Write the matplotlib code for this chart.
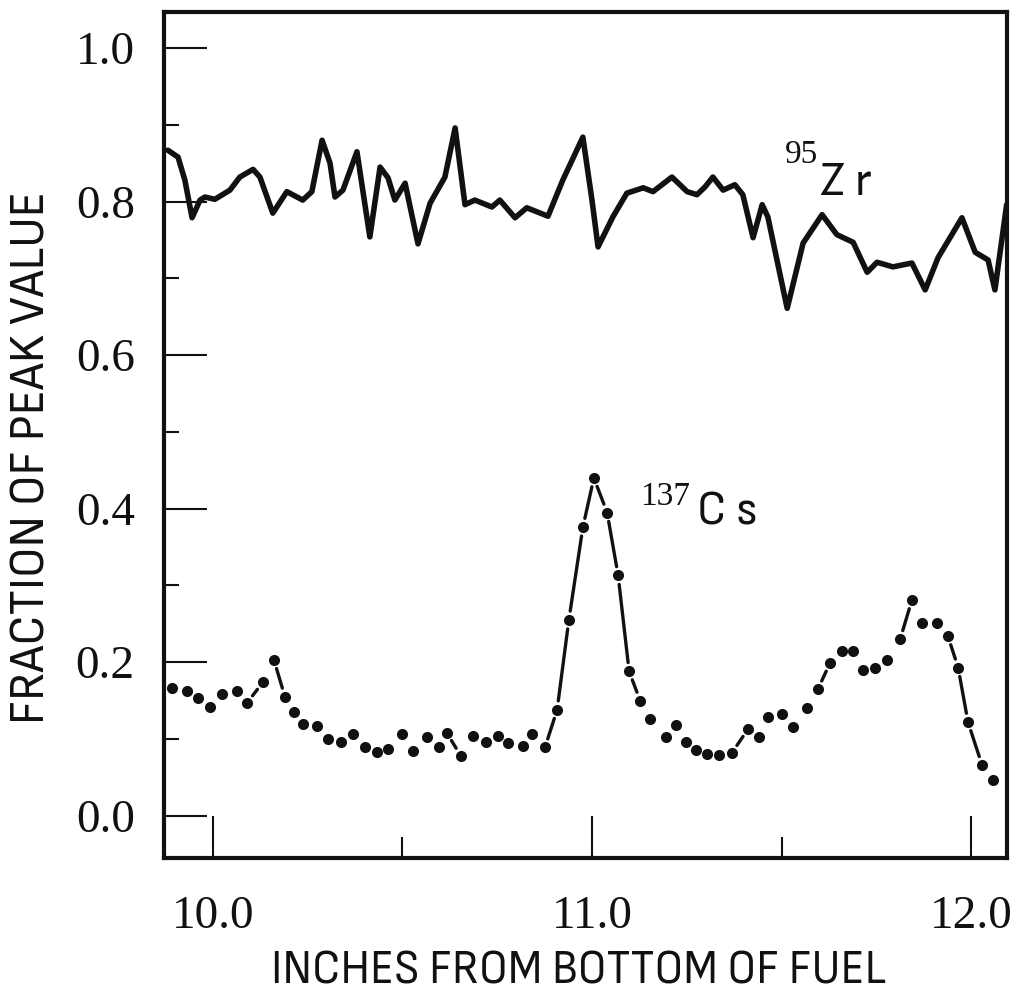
import numpy as np
import matplotlib
matplotlib.use('Agg')
import matplotlib.pyplot as plt
from matplotlib.ticker import FixedLocator

# 95Zr scan (solid trace)
zr_x = [9.881, 9.908, 9.926, 9.945, 9.966, 9.979, 10.005, 10.045, 10.071, 10.106,
        10.124, 10.158, 10.195, 10.237, 10.261, 10.288, 10.309, 10.322, 10.343, 10.380,
        10.414, 10.441, 10.462, 10.480, 10.507, 10.541, 10.573, 10.612, 10.639, 10.665,
        10.691, 10.736, 10.757, 10.797, 10.828, 10.884, 10.923, 10.976, 11.000, 11.016,
        11.055, 11.092, 11.135, 11.161, 11.211, 11.251, 11.277, 11.298, 11.319, 11.346,
        11.377, 11.398, 11.425, 11.449, 11.464, 11.515, 11.557, 11.607, 11.646, 11.689,
        11.726, 11.752, 11.794, 11.844, 11.879, 11.913, 11.976, 12.011, 12.045, 12.063,
        12.094]
zr_y = [0.867, 0.858, 0.828, 0.779, 0.802, 0.806, 0.803, 0.815, 0.832, 0.842,
        0.832, 0.785, 0.813, 0.802, 0.813, 0.880, 0.850, 0.806, 0.815, 0.865,
        0.754, 0.845, 0.831, 0.802, 0.824, 0.745, 0.798, 0.832, 0.896, 0.796,
        0.802, 0.793, 0.802, 0.779, 0.792, 0.781, 0.828, 0.884, 0.802, 0.741,
        0.780, 0.811, 0.818, 0.813, 0.832, 0.813, 0.809, 0.819, 0.832, 0.815,
        0.822, 0.809, 0.753, 0.796, 0.780, 0.661, 0.746, 0.783, 0.757, 0.747,
        0.708, 0.721, 0.715, 0.720, 0.685, 0.727, 0.779, 0.734, 0.724, 0.685,
        0.796]

# 137Cs scan (measured points)
cs_x = [9.892, 9.931, 9.960, 9.992, 10.024, 10.063, 10.090, 10.132, 10.161, 10.190,
        10.214, 10.237, 10.274, 10.303, 10.338, 10.369, 10.401, 10.433, 10.462, 10.499,
        10.528, 10.565, 10.596, 10.617, 10.654, 10.686, 10.720, 10.752, 10.778, 10.818,
        10.842, 10.876, 10.908, 10.939, 10.976, 11.005, 11.040, 11.069, 11.098, 11.127,
        11.153, 11.195, 11.222, 11.248, 11.274, 11.303, 11.335, 11.369, 11.412, 11.441,
        11.464, 11.501, 11.530, 11.567, 11.596, 11.628, 11.660, 11.689, 11.715, 11.747,
        11.778, 11.813, 11.844, 11.871, 11.910, 11.939, 11.966, 11.992, 12.029, 12.058]
cs_y = [0.167, 0.163, 0.154, 0.142, 0.159, 0.163, 0.147, 0.174, 0.203, 0.155,
        0.135, 0.120, 0.117, 0.100, 0.096, 0.107, 0.089, 0.083, 0.087, 0.107,
        0.085, 0.103, 0.090, 0.108, 0.078, 0.104, 0.096, 0.104, 0.095, 0.091,
        0.107, 0.089, 0.138, 0.255, 0.376, 0.440, 0.395, 0.313, 0.188, 0.150,
        0.126, 0.102, 0.118, 0.096, 0.086, 0.081, 0.079, 0.082, 0.113, 0.102,
        0.129, 0.132, 0.116, 0.141, 0.165, 0.199, 0.215, 0.215, 0.190, 0.193,
        0.203, 0.230, 0.281, 0.251, 0.251, 0.234, 0.193, 0.122, 0.066, 0.046]

x_major = [10.0, 11.0, 12.0]
x_minor = [10.5, 11.5]
x_labels = ['10.0', '11.0', '12.0']
y_major = [0.0, 0.2, 0.4, 0.6, 0.8, 1.0]
y_minor = [0.1, 0.3, 0.5, 0.7, 0.9]
y_labels = ['0.0', '0.2', '0.4', '0.6', '0.8', '1.0']

ink = '#111111'
serif = ['Liberation Serif', 'DejaVu Serif']
narrow = ['Sofia Sans Semi Condensed', 'DejaVu Sans']

fig = plt.figure(figsize=(10.2, 10.0), dpi=100)
ax = fig.add_axes([0.1608, 0.142, 0.8265, 0.846])
ax.set_xlim(9.871, 12.095)
ax.set_ylim(-0.055, 1.047)

ax.plot(zr_x, zr_y, color=ink, lw=4.0, solid_joinstyle='round',
        solid_capstyle='round', zorder=3)

# dots, with dashes bridging only the wider gaps between neighbours
ax.plot(cs_x, cs_y, 'o', color=ink, markersize=8.0, markeredgewidth=0, zorder=4)
pts = ax.transData.transform(np.column_stack([cs_x, cs_y]))
gap = 9.0
for p, q in zip(pts[:-1], pts[1:]):
    d = q - p
    n = np.hypot(*d)
    if n - 2 * gap < 8:
        continue
    a = p + d * gap / n
    b = q - d * gap / n
    seg = ax.transData.inverted().transform(np.array([a, b]))
    ax.plot(seg[:, 0], seg[:, 1], color=ink, lw=2.4, solid_capstyle='round', zorder=3)

for s in ax.spines.values():
    s.set_linewidth(3.0)
    s.set_color(ink)

ax.xaxis.set_major_locator(FixedLocator(x_major))
ax.xaxis.set_minor_locator(FixedLocator(x_minor))
ax.set_xticklabels(x_labels)
ax.yaxis.set_major_locator(FixedLocator(y_major))
ax.yaxis.set_minor_locator(FixedLocator(y_minor))
ax.set_yticklabels(y_labels)
ax.tick_params(which='both', direction='in', color=ink, top=False, right=False)
ax.tick_params(axis='x', which='major', length=30, width=1.5, pad=27)
ax.tick_params(axis='x', which='minor', length=15, width=1.5)
ax.tick_params(axis='y', which='major', length=31, width=1.5, pad=21)
ax.tick_params(axis='y', which='minor', length=11, width=1.5)
for lab in ax.get_xticklabels() + ax.get_yticklabels():
    lab.set_fontfamily(serif)
    lab.set_fontsize(34)
    lab.set_color(ink)

fig.text(0.567, 0.028, 'INCHES FROM BOTTOM OF FUEL', ha='center', va='center',
         fontsize=34, family=narrow, color=ink)
fig.text(0.031, 0.543, 'FRACTION OF PEAK VALUE', ha='center', va='center',
         rotation=90, fontsize=36, family=narrow, color=ink)

ax.text(11.509, 0.850, '95', fontsize=24, family=serif, color=ink, va='baseline')
ax.text(11.602, 0.809, 'Z r', fontsize=35, family=narrow, color=ink, va='baseline')
ax.text(11.127, 0.405, '137', fontsize=24, family=serif, color=ink, va='baseline')
ax.text(11.277, 0.379, 'C s', fontsize=35, family=narrow, color=ink, va='baseline')

fig.savefig('out.png', dpi=100, facecolor='white')
